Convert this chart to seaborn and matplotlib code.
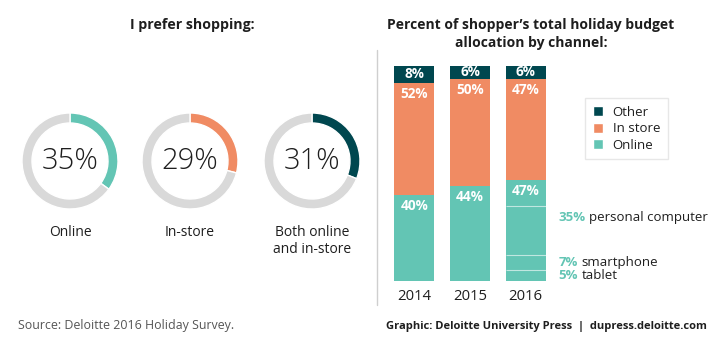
import matplotlib
matplotlib.use("Agg")
import matplotlib.pyplot as plt
from matplotlib.patches import Patch
from matplotlib.lines import Line2D
import numpy as np
import pandas as pd
import seaborn as sns

# ---- data -------------------------------------------------------------
pref_labels = ["Online", "In-store", "Both online\nand in-store"]
pref_values = [35, 29, 31]

years = ["2014", "2015", "2016"]
online = [40, 44, 47]
in_store = [52, 50, 47]
other = [8, 6, 6]

device_names = ["tablet", "smartphone", "personal computer"]
device_values = [5, 7, 35]  # 2016 online split, bottom to top

# ---- style ------------------------------------------------------------
TEAL = "#63C5B4"
ORANGE = "#F08B63"
DARK = "#00474F"
RING = "#D9D9D9"
TEXT = "#1E1E1E"

sns.set_theme(style="white")
plt.rcParams["font.family"] = ["Open Sans", "DejaVu Sans"]

W, H = 726, 348
fig = plt.figure(figsize=(W / 100, H / 100), dpi=100)
fig.patch.set_facecolor("white")


def px_axes(x0, y0, w, h):
    """Axes placed by pixel box (top-left origin)."""
    return fig.add_axes([x0 / W, 1 - (y0 + h) / H, w / W, h / H])


def ftext(x, y, s, **kw):
    return fig.text(x / W, 1 - y / H, s, **kw)


# ---- left panel: preference donuts ------------------------------------
ftext(192, 25, "I prefer shopping:", ha="center", va="center",
      fontsize=10.2, fontweight="bold", color=TEXT)

centers = [70, 190, 312]
ring_colors = [TEAL, ORANGE, DARK]
R = 48
for cx, lab, val, col in zip(centers, pref_labels, pref_values, ring_colors):
    ax = px_axes(cx - R, 161 - R, 2 * R, 2 * R)
    ax.pie([val, 100 - val], colors=[col, RING], startangle=90,
           counterclock=False, radius=1,
           wedgeprops=dict(width=10 / R, edgecolor="white", linewidth=1))
    ax.set_xlim(-1, 1)
    ax.set_ylim(-1, 1)
    ax.set_aspect("equal")
    ax.axis("off")
    ax.text(0, 0, f"{val}%", ha="center", va="center", fontsize=21,
            fontweight="light", color=TEXT)
    ftext(cx, 225, lab, ha="center", va="top", fontsize=10, color=TEXT,
          linespacing=1.15)

ftext(18, 326, "Source: Deloitte 2016 Holiday Survey.", ha="left",
      va="center", fontsize=8.9, color="#555555")

# ---- right panel: budget allocation stacked bars ----------------------
ftext(531, 34, "Percent of shopper\u2019s total holiday budget\nallocation by channel:",
      ha="center", va="center", fontsize=10, fontweight="bold",
      color=TEXT, linespacing=1.3)

fig.add_artist(Line2D([377 / W, 377 / W], [1 - 50 / H, 1 - 305 / H],
                      transform=fig.transFigure, color="#CFCFCF", lw=1))

df = pd.DataFrame({"year": years, "Online": online,
                   "In store": in_store, "Other": other})
df["top_online"] = df["Online"]
df["top_store"] = df["Online"] + df["In store"]
df["top_other"] = df["top_store"] + df["Other"]

bx = px_axes(386.5, 65.7, 167, 215.3)
bar_w = 0.72
for col, colr in [("top_other", DARK), ("top_store", ORANGE), ("top_online", TEAL)]:
    sns.barplot(data=df, x="year", y=col, color=colr, width=bar_w,
                saturation=1, ax=bx, edgecolor="none", linewidth=0)
bx.set_xlim(-0.5, 2.5)
bx.set_ylim(0, 100)
bx.set_xlabel("")
bx.set_ylabel("")
bx.set_yticks([])
sns.despine(ax=bx, left=True, bottom=True)
bx.tick_params(axis="x", length=0, pad=6, labelsize=10.7, labelcolor=TEXT)

lbl = dict(ha="center", va="center", color="white", fontsize=9.8,
           fontweight="bold")
for i in range(len(years)):
    bx.text(i, (df.top_store[i] + df.top_other[i]) / 2, f"{other[i]}%", **lbl)
    bx.text(i, df.top_store[i] - 5.2, f"{in_store[i]}%", **lbl)
    bx.text(i, df.top_online[i] - 5.2, f"{online[i]}%", **lbl)

# 2016 online split into devices
i16 = years.index("2016")
x0, x1 = i16 - bar_w / 2, i16 + bar_w / 2
cum = np.cumsum(device_values)
bounds = list(cum[:-1]) + [cum[-1] - cum[-2]]
for b in bounds:
    bx.hlines(b, x0, x1, colors="white", linewidth=0.8, alpha=0.6)

starts = np.concatenate([[0], cum[:-1]])
for name, v, s in zip(device_names, device_values, starts):
    yc = s + v / 2
    t1 = bx.annotate(f"{v}%", xy=(x1, yc), xytext=(9, 0),
                     textcoords="offset points", ha="left", va="center",
                     fontsize=9.5, fontweight="bold", color=TEAL,
                     annotation_clip=False)
    fig.canvas.draw()
    wpx = t1.get_window_extent().width
    bx.annotate(name, xy=(x1, yc), xytext=(9 + wpx * 72 / 100 + 3, 0),
                textcoords="offset points", ha="left", va="center",
                fontsize=9.5, color=TEXT, annotation_clip=False)

handles = [Patch(facecolor=DARK, label="Other"),
           Patch(facecolor=ORANGE, label="In store"),
           Patch(facecolor=TEAL, label="Online")]
fig.legend(handles=handles, loc="upper left",
           bbox_to_anchor=(585 / W, 1 - 98 / H), frameon=True,
           fancybox=False, edgecolor="#E2E2E2", fontsize=9.5,
           handlelength=0.8, handleheight=0.8, handletextpad=0.7,
           labelspacing=0.25, borderpad=0.6, borderaxespad=0,
           labelcolor=TEXT)

ftext(386, 326, "Graphic: Deloitte University Press  |  dupress.deloitte.com",
      ha="left", va="center", fontsize=8.0, fontweight="bold", color=TEXT)

fig.savefig("out.png", dpi=100, facecolor="white")
